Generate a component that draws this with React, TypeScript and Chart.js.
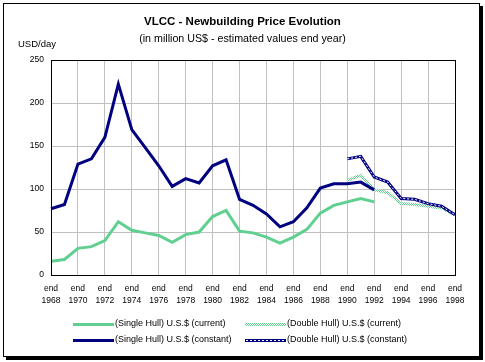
import React, { useEffect, useRef } from "react";
import { Chart, registerables } from "chart.js";

Chart.register(...registerables);

const years: number[] = [
  1968, 1969, 1970, 1971, 1972, 1973, 1974, 1975, 1976, 1977, 1978, 1979, 1980, 1981, 1982,
  1983, 1984, 1985, 1986, 1987, 1988, 1989, 1990, 1991, 1992, 1993, 1994, 1995, 1996, 1997, 1998,
];

const singleHullCurrent: (number | null)[] = [
  16, 18, 31, 33, 40, 62, 52, 49, 46, 38, 47, 50, 68, 75, 51, 49, 44, 37, 44, 53, 72, 81, 85, 89, 85,
  null, null, null, null, null, null,
];
const singleHullConstant: (number | null)[] = [
  77, 82, 129, 135, 160, 222, 169, 148, 127, 103, 112, 107, 127, 134, 88, 81, 71, 56, 62, 78, 101, 106, 106, 108, 99,
  null, null, null, null, null, null,
];
const doubleHullCurrent: (number | null)[] = [
  null, null, null, null, null, null, null, null, null, null, null, null, null, null, null, null, null, null, null, null, null, null,
  110, 116, 99, 96, 83, 82, 80, 78, 70,
];
const doubleHullConstant: (number | null)[] = [
  null, null, null, null, null, null, null, null, null, null, null, null, null, null, null, null, null, null, null, null, null, null,
  135, 138, 114, 108, 89, 88, 83, 80, 70,
];

const yTicks: number[] = [0, 50, 100, 150, 200, 250];

const seriesNames: string[] = [
  "(Single Hull) U.S.$ (current)",
  "(Double Hull) U.S.$ (current)",
  "(Single Hull) U.S.$ (constant)",
  "(Double Hull) U.S.$ (constant)",
];

const GREEN = "#60d090";
const NAVY = "#000080";
const GRID = "#c0c0c0";
const FONT = "Arial, 'Liberation Sans', sans-serif";

function makeChecker(): CanvasPattern | string {
  const c = document.createElement("canvas");
  c.width = 2;
  c.height = 2;
  const g = c.getContext("2d");
  if (!g) return GREEN;
  g.fillStyle = "#ffffff";
  g.fillRect(0, 0, 2, 2);
  g.fillStyle = GREEN;
  g.fillRect(0, 0, 1, 1);
  g.fillRect(1, 1, 1, 1);
  const p = g.createPattern(c, "repeat");
  return p || GREEN;
}

const frameBorder = {
  id: "frameBorder",
  afterDraw(chart: any) {
    const { ctx, chartArea } = chart;
    ctx.save();
    ctx.strokeStyle = "#000";
    ctx.lineWidth = 1;
    ctx.strokeRect(
      Math.round(chartArea.left) + 0.5,
      Math.round(chartArea.top) + 0.5,
      Math.round(chartArea.right - chartArea.left),
      Math.round(chartArea.bottom - chartArea.top)
    );
    ctx.restore();
  },
};

export default function App() {
  const ref = useRef<HTMLCanvasElement | null>(null);

  useEffect(() => {
    document.body.style.margin = "0";
    const canvas = ref.current;
    if (!canvas) return;
    const checker = makeChecker();
    const chart = new Chart(canvas, {
      type: "line",
      data: {
        labels: years.map(String),
        datasets: [
          {
            label: seriesNames[3] + " overlay",
            data: doubleHullConstant,
            borderColor: "#ffffff",
            borderWidth: 1,
            borderDash: [2, 2],
            pointRadius: 0,
            tension: 0,
            order: 0,
          },
          {
            label: seriesNames[3],
            data: doubleHullConstant,
            borderColor: NAVY,
            borderWidth: 3,
            pointRadius: 0,
            tension: 0,
            order: 1,
          },
          {
            label: seriesNames[2],
            data: singleHullConstant,
            borderColor: NAVY,
            borderWidth: 3,
            pointRadius: 0,
            tension: 0,
            order: 2,
          },
          {
            label: seriesNames[1],
            data: doubleHullCurrent,
            borderColor: checker as any,
            borderWidth: 3,
            pointRadius: 0,
            tension: 0,
            order: 3,
          },
          {
            label: seriesNames[0],
            data: singleHullCurrent,
            borderColor: GREEN,
            borderWidth: 3,
            pointRadius: 0,
            tension: 0,
            order: 4,
          },
        ],
      },
      options: {
        responsive: false,
        animation: false,
        events: [],
        layout: { padding: { left: 0, top: 60, right: 30, bottom: 0 } },
        plugins: {
          legend: { display: false },
          title: { display: false },
          tooltip: { enabled: false },
        },
        scales: {
          x: {
            type: "category",
            offset: false,
            afterFit: (s: any) => {
              s.height = 87;
            },
            grid: {
              drawTicks: false,
              color: (c: any) => (c.index % 2 === 0 ? GRID : "rgba(0,0,0,0)"),
            },
            border: { display: false },
            ticks: {
              autoSkip: false,
              maxRotation: 0,
              minRotation: 0,
              padding: 7,
              color: "#000",
              font: { family: FONT, size: 8.5, lineHeight: 1.5 },
              callback: (_v: any, i: number) => (i % 2 === 0 ? ["end", String(years[i])] : ""),
            },
          },
          y: {
            min: 0,
            max: 250,
            afterFit: (s: any) => {
              s.width = 51;
            },
            afterBuildTicks: (s: any) => {
              s.ticks = yTicks.map((v) => ({ value: v }));
            },
            grid: { drawTicks: false, color: GRID },
            border: { display: false },
            ticks: {
              padding: 7,
              color: "#000",
              font: { family: FONT, size: 8.5 },
            },
          },
        },
      },
      plugins: [frameBorder],
    });
    return () => chart.destroy();
  }, []);

  const text: React.CSSProperties = {
    position: "absolute",
    fontFamily: FONT,
    fontSize: 9,
    color: "#000",
    whiteSpace: "nowrap",
    lineHeight: "13px",
  };

  const sample = (kind: number): React.CSSProperties => {
    const base: React.CSSProperties = { position: "absolute", width: 41, height: 3 };
    if (kind === 0) return { ...base, background: GREEN };
    if (kind === 2) return { ...base, background: NAVY };
    if (kind === 1)
      return {
        ...base,
        backgroundImage: `repeating-conic-gradient(${GREEN} 0 25%, #ffffff 0 50%)`,
        backgroundSize: "2px 2px",
      };
    return {
      ...base,
      background: NAVY,
    };
  };

  const legendPos = [
    { sx: 73, tx: 115, y: 324 },
    { sx: 245, tx: 287, y: 324 },
    { sx: 73, tx: 115, y: 340 },
    { sx: 245, tx: 287, y: 340 },
  ];

  return (
    <div style={{ position: "fixed", left: 0, top: 0, width: 485, height: 362, background: "#fff", overflow: "hidden" }}>
      <div
        style={{
          position: "absolute",
          left: 3,
          top: 3,
          width: 477,
          height: 354,
          boxSizing: "border-box",
          border: "1px solid #000",
          boxShadow: "3px 3px 0 #000",
          background: "#fff",
        }}
      />
      <canvas ref={ref} width={485} height={362} style={{ position: "absolute", left: 0, top: 0 }} />
      <div
        style={{
          ...text,
          left: 0,
          width: 485,
          textAlign: "center",
          top: 13,
          fontSize: 11.5,
          fontWeight: "bold",
          lineHeight: "16px",
        }}
      >
        VLCC - Newbuilding Price Evolution
      </div>
      <div style={{ ...text, left: 0, width: 485, textAlign: "center", top: 31, fontSize: 10.7, lineHeight: "14px" }}>
        (in million US$ - estimated values end year)
      </div>
      <div style={{ ...text, left: 18, top: 37, fontSize: 9.5 }}>USD/day</div>
      {seriesNames.map((name, i) => (
        <React.Fragment key={name}>
          <div style={{ ...sample(i), left: legendPos[i].sx, top: legendPos[i].y - 1 }}>
            {i === 3 ? (
              <div
                style={{
                  position: "absolute",
                  left: 1,
                  top: 1,
                  width: 39,
                  height: 1,
                  backgroundImage: "repeating-linear-gradient(90deg, #ffffff 0 2px, transparent 2px 4px)",
                }}
              />
            ) : null}
          </div>
          <div style={{ ...text, left: legendPos[i].tx, top: legendPos[i].y - 7 }}>{name}</div>
        </React.Fragment>
      ))}
    </div>
  );
}
